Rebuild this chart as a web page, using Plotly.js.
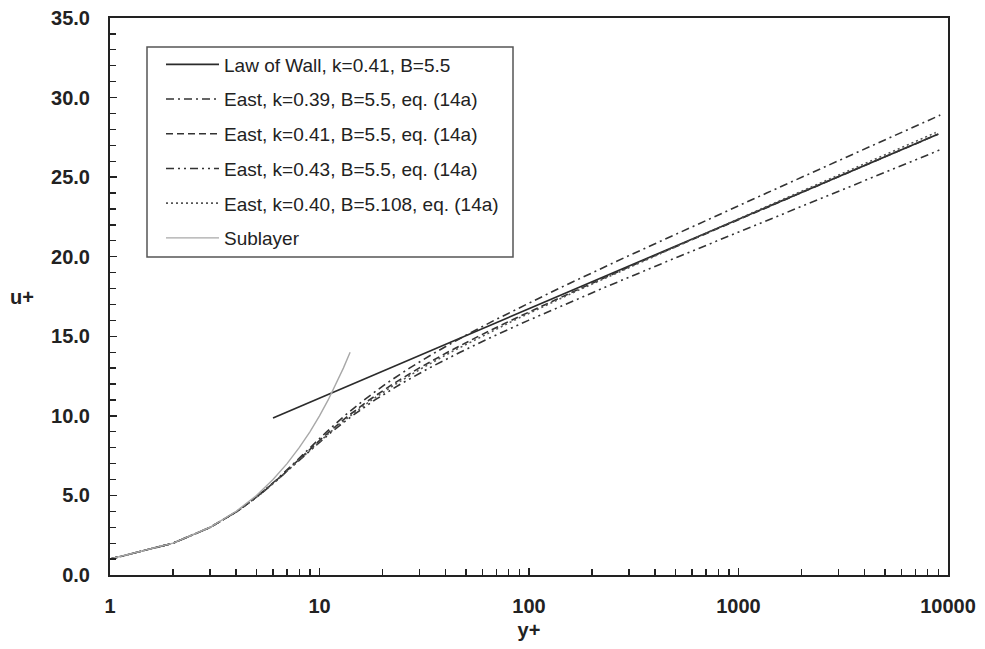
<!DOCTYPE html>
<html>
<head>
<meta charset="utf-8">
<script src="https://cdn.plot.ly/plotly-3.0.1.min.js"></script>
<style>html,body{margin:0;padding:0;background:#fff;}#chart{width:985px;height:649px;}</style>
</head>
<body>
<div id="chart"></div>
<script>
// Law of the wall (straight on log axis)
const lawY = [6, 9000];
const lawU = [9.87, 27.71];

// Viscous sublayer u+ = y+
const subY = [1, 2, 3, 4, 5, 6, 7, 8, 9, 10, 11, 12, 13, 14];
const subU = [1, 2, 3, 4, 5, 6, 7, 8, 9, 10, 11, 12, 13, 14];

// East, k=0.39, B=5.5
const e39U = [1, 2, 3, 4, 5, 6, 7, 8, 9, 10, 11, 12, 13, 14, 15, 16, 18, 20, 22, 24, 26, 28, 28.9];
const e39Y = [1.0, 2.002, 3.012, 4.041, 5.110, 6.254, 7.525, 9.007, 10.82, 13.16, 16.31, 20.67, 26.88, 35.85, 48.95, 68.19, 138.4, 291.9, 627.7, 1362, 2965, 6466, 9184];

// East, k=0.41, B=5.5
const e41U = [1, 2, 3, 4, 5, 6, 7, 8, 9, 10, 11, 12, 13, 14, 15, 16, 18, 20, 22, 24, 26, 27.7];
const e41Y = [1.0, 2.002, 3.013, 4.046, 5.124, 6.287, 7.599, 9.158, 11.12, 13.71, 17.29, 22.40, 29.85, 40.88, 57.37, 82.08, 175.4, 387.8, 871, 1970, 4468, 8967];

// East, k=0.43, B=5.5
const e43U = [1, 2, 3, 4, 5, 6, 7, 8, 9, 10, 11, 12, 13, 14, 15, 16, 18, 20, 22, 24, 26, 26.7];
const e43Y = [1.0, 2.003, 3.014, 4.050, 5.138, 6.322, 7.677, 9.320, 11.44, 14.31, 18.40, 24.39, 33.34, 46.91, 67.61, 99.36, 223.1, 516.3, 1210, 2852, 6735, 9098];

// East, k=0.40, B=5.108
const e40U = [1, 2, 3, 4, 5, 6, 7, 8, 9, 10, 11, 12, 13, 14, 15, 16, 18, 20, 22, 24, 26, 27.8];
const e40Y = [1.0, 2.003, 3.015, 4.051, 5.137, 6.316, 7.657, 9.264, 11.30, 14.01, 17.76, 23.12, 30.90, 42.37, 59.38, 84.73, 179.1, 390, 860.8, 1911, 4252, 8739];

const names = [
  'Law of Wall, k=0.41, B=5.5',
  'East, k=0.39, B=5.5, eq. (14a)',
  'East, k=0.41, B=5.5, eq. (14a)',
  'East, k=0.43, B=5.5, eq. (14a)',
  'East, k=0.40, B=5.108, eq. (14a)',
  'Sublayer'
];
const xTickVals = [1, 10, 100, 1000, 10000];
const xTickText = ['1', '10', '100', '1000', '10000'];

const FONT = '"Liberation Sans", Arial, sans-serif';

function tr(x, y, name, color, dash, width, g) {
  return {x: x, y: y, name: name, type: 'scatter', mode: 'lines',
          legendgroup: g, line: {color: color, dash: dash, width: width}};
}

const data = [
  tr(lawY, lawU, names[0], '#2b2b2b', 'solid', 1.7, 'a'),
  tr(e39Y, e39U, names[1], '#333', '8px,4px,2px,4px', 1.6, 'b'),
  tr(e41Y, e41U, names[2], '#333', '7px,4px', 1.6, 'c'),
  tr(e43Y, e43U, names[3], '#333', '8px,4px,2px,4px,2px,4px', 1.6, 'd'),
  tr(e40Y, e40U, names[4], '#555', '2px,3px', 1.6, 'e'),
  tr(subY, subU, names[5], '#a8a8a8', 'solid', 1.4, 'f')
];

// plot area in px: left 110, right 948, top 18, bottom 575
const PL = 110, PR = 948, PT = 18, PB = 575;
const px2x = p => (p - PL) / (PR - PL);
const px2y = p => (PB - p) / (PB - PT);

const layout = {
  width: 985, height: 649,
  margin: {l: PL, r: 985 - PR, t: PT, b: 649 - PB},
  paper_bgcolor: '#fff', plot_bgcolor: '#fff',
  font: {family: FONT, color: '#222'},
  showlegend: true,
  legend: {
    x: px2x(161), y: px2y(45.5), xanchor: 'left', yanchor: 'top',
    bgcolor: 'rgba(0,0,0,0)', borderwidth: 0,
    font: {family: FONT, size: 19, color: '#222'},
    tracegroupgap: 7, itemwidth: 53
  },
  shapes: [{
    type: 'rect', xref: 'paper', yref: 'paper', layer: 'below',
    x0: px2x(147), x1: px2x(513), y0: px2y(257), y1: px2y(47),
    line: {color: '#555', width: 1.5}, fillcolor: '#fff'
  }],
  xaxis: {
    type: 'log', range: [0, 4],
    tickmode: 'array', tickvals: xTickVals, ticktext: xTickText,
    ticks: 'inside', ticklen: 7, tickwidth: 1.3, tickcolor: '#222',
    minor: {ticks: 'inside', ticklen: 6, tickwidth: 1.3, tickcolor: '#222', dtick: 'D1', showgrid: false},
    showline: true, linecolor: '#222', linewidth: 2, mirror: true,
    showgrid: false, zeroline: false,
    tickfont: {family: FONT, size: 20, color: '#222', weight: 'bold'},
    ticklabelstandoff: 12,
    title: {text: '<b>y+</b>', font: {family: FONT, size: 20, color: '#222'}, standoff: 7}
  },
  yaxis: {
    range: [0, 35], dtick: 5, tick0: 0, tickformat: '.1f',
    ticks: 'inside', ticklen: 7, tickwidth: 1.3, tickcolor: '#222',
    minor: {ticks: 'inside', ticklen: 6, tickwidth: 1.3, tickcolor: '#222', dtick: 1, showgrid: false},
    showline: true, linecolor: '#222', linewidth: 2, mirror: true,
    showgrid: false, zeroline: false,
    tickfont: {family: FONT, size: 20, color: '#222', weight: 'bold'},
    ticklabelstandoff: 14
  },
  annotations: [{
    text: '<b>u+</b>', xref: 'paper', yref: 'paper', x: px2x(22), y: px2y(297),
    xanchor: 'center', yanchor: 'middle', showarrow: false,
    font: {family: FONT, size: 20, color: '#222'}
  }]
};

Plotly.newPlot('chart', data, layout, {displayModeBar: false, staticPlot: true});
</script>
</body>
</html>
